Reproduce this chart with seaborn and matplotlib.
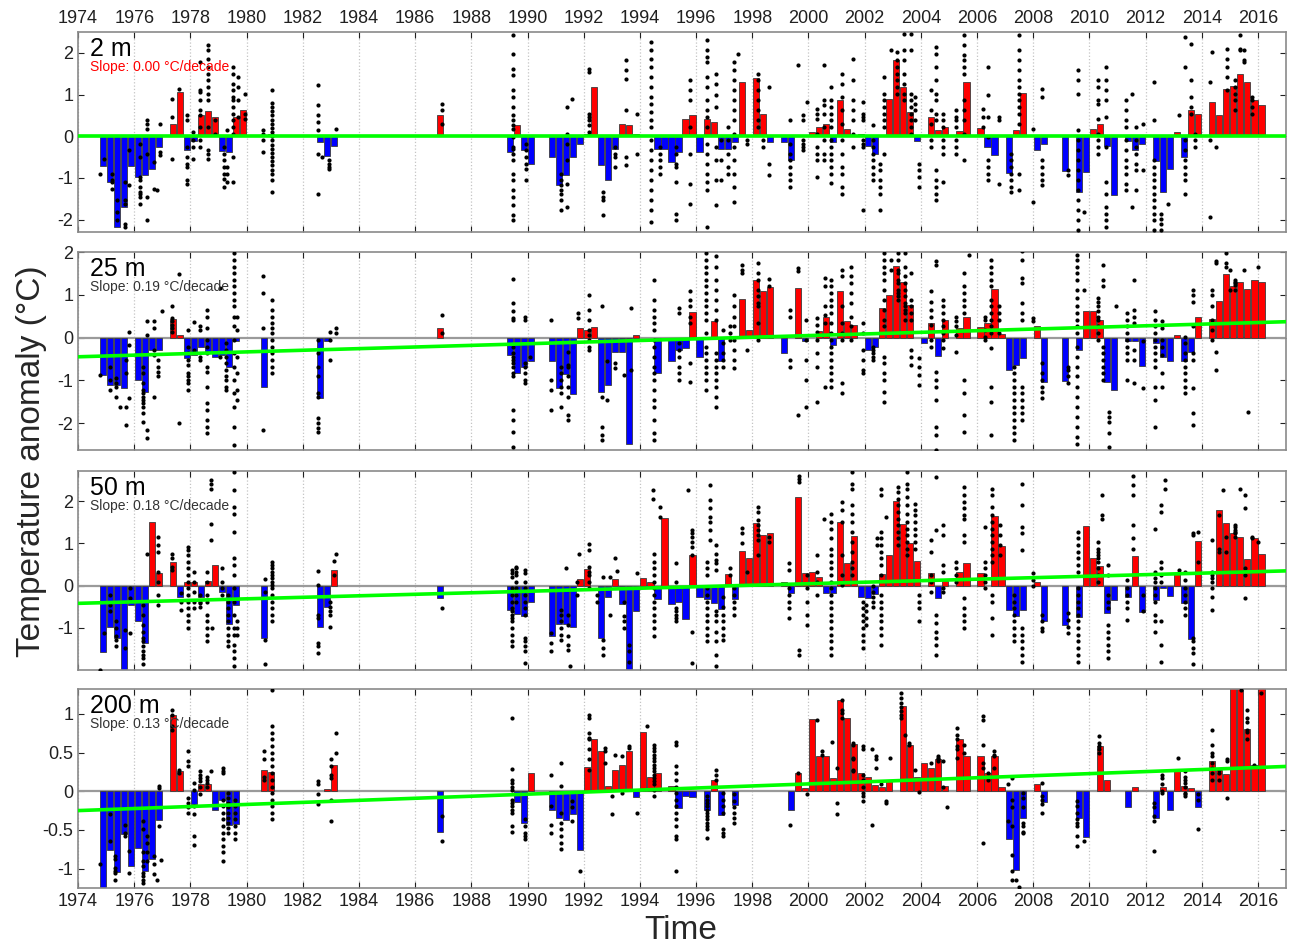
import matplotlib
matplotlib.use("Agg")
import matplotlib.pyplot as plt
import numpy as np
import pandas as pd
import seaborn as sns

# ---- data ----
year_ticks = list(range(1974, 2017, 2))
trend_x = [1974, 2017]

# seasonal mean anomalies: (time, value)
bars_2m = [(1974.875, -0.72), (1975.125, -1.10), (1975.375, -2.18), (1975.625, -1.70), (1975.875, -0.71),
           (1976.125, -0.98), (1976.375, -0.94), (1976.625, -0.78), (1976.875, -0.26), (1977.375, 0.29),
           (1977.625, 1.06), (1977.875, -0.34), (1978.125, -0.12), (1978.375, 0.52), (1978.625, 0.61),
           (1978.875, 0.45), (1979.125, -0.35), (1979.375, -0.38), (1979.625, 0.45), (1979.875, 0.64),
           (1980.875, 0.05), (1982.625, -0.13), (1982.875, -0.47), (1983.125, -0.23), (1986.875, 0.50),
           (1989.375, -0.38), (1989.625, 0.28), (1989.875, -0.32), (1990.125, -0.66), (1990.875, -0.50),
           (1991.125, -1.18), (1991.375, -0.94), (1991.625, -0.50), (1991.875, -0.19), (1992.125, 0.05),
           (1992.375, 1.18), (1992.625, -0.68), (1992.875, -1.06), (1993.125, -0.30), (1993.375, 0.30),
           (1993.625, 0.26), (1993.875, 0.06), (1994.625, -0.31), (1994.875, -0.31), (1995.125, -0.62),
           (1995.375, -0.38), (1995.625, 0.41), (1995.875, 0.50), (1996.125, -0.39), (1996.375, 0.42),
           (1996.625, 0.34), (1996.875, -0.31), (1997.125, -0.31), (1997.375, -0.13), (1997.625, 1.29),
           (1998.125, 1.40), (1998.375, 0.53), (1998.625, -0.13), (1999.125, -0.14), (1999.375, -0.56),
           (2000.125, 0.10), (2000.375, 0.21), (2000.625, 0.30), (2000.875, -0.13), (2001.125, 0.88),
           (2001.375, 0.18), (2001.875, 0.06), (2002.125, -0.23), (2002.375, -0.42), (2002.875, 0.89),
           (2003.125, 1.82), (2003.375, 1.19), (2003.625, 0.58), (2003.875, -0.11), (2004.375, 0.45),
           (2004.625, 0.14), (2004.875, 0.21), (2005.375, 0.13), (2005.625, 1.30), (2006.125, 0.20),
           (2006.375, -0.27), (2006.625, -0.44), (2007.125, -0.88), (2007.375, 0.16), (2007.625, 1.04),
           (2008.125, -0.34), (2008.375, -0.19), (2009.125, -0.83), (2009.625, -1.35), (2009.875, -0.86),
           (2010.125, 0.18), (2010.375, 0.30), (2010.625, -0.23), (2010.875, -1.42), (2011.375, -0.11),
           (2011.625, -0.34), (2011.875, -0.19), (2012.375, -0.59), (2012.625, -1.35), (2012.875, -0.78),
           (2013.125, 0.10), (2013.375, -0.51), (2013.625, 0.62), (2013.875, 0.53), (2014.375, 0.82),
           (2014.625, 0.50), (2014.875, 1.14), (2015.125, 1.20), (2015.375, 1.50), (2015.625, 1.30),
           (2015.875, 0.86), (2016.125, 0.74)]

bars_25m = [(1974.875, -0.88), (1975.125, -1.12), (1975.375, -1.12), (1975.625, -1.17), (1976.125, -0.99),
            (1976.375, -1.28), (1976.625, -0.29), (1976.875, -0.29), (1977.375, 0.44), (1977.625, 0.05),
            (1977.875, -0.48), (1978.125, -0.40), (1978.375, -0.21), (1978.625, -0.33), (1978.875, -0.45),
            (1979.125, -0.41), (1979.375, -0.70), (1979.625, -0.09), (1980.625, -1.15), (1982.625, -1.42),
            (1982.875, -0.09), (1986.875, 0.22), (1989.375, -0.41), (1989.625, -0.84), (1989.875, -0.68),
            (1990.125, -0.55), (1990.875, -0.56), (1991.125, -1.19), (1991.375, -0.85), (1991.625, -1.32),
            (1991.875, 0.23), (1992.125, 0.18), (1992.375, 0.24), (1992.625, -1.28), (1992.875, -1.12),
            (1993.125, -0.33), (1993.375, -0.33), (1993.625, -2.49), (1993.875, 0.05), (1994.625, -0.84),
            (1995.125, -0.55), (1995.375, -0.29), (1995.625, -0.25), (1995.875, 0.59), (1996.125, -0.45),
            (1996.625, 0.38), (1996.875, -0.54), (1997.625, 0.91), (1997.875, 0.18), (1998.125, 1.34),
            (1998.375, 1.09), (1998.625, 1.18), (1999.125, -0.35), (1999.625, 1.16), (1999.875, -0.09),
            (2000.375, 0.16), (2000.625, 0.49), (2000.875, -0.17), (2001.125, 1.09), (2001.375, 0.38),
            (2001.625, 0.30), (2002.125, -0.29), (2002.375, -0.23), (2002.625, 0.70), (2002.875, 1.00),
            (2003.125, 1.68), (2003.375, 1.31), (2003.625, 0.77), (2004.125, -0.13), (2004.375, 0.34),
            (2004.625, -0.42), (2004.875, 0.41), (2005.375, 0.22), (2005.625, 0.48), (2006.125, 0.24),
            (2006.375, 0.34), (2006.625, 1.14), (2006.875, 0.08), (2007.125, -0.77), (2007.375, -0.64),
            (2007.625, -0.48), (2008.125, 0.27), (2008.375, -1.05), (2009.125, -1.01), (2009.625, -0.30),
            (2009.875, 0.63), (2010.125, 0.63), (2010.375, 0.41), (2010.625, -1.03), (2010.875, -1.23),
            (2011.375, -0.09), (2011.625, -0.07), (2011.875, -0.66), (2012.375, -0.12), (2012.625, -0.45),
            (2012.875, -0.56), (2013.125, 0.05), (2013.375, -0.56), (2013.625, -0.33), (2013.875, 0.47),
            (2014.375, 0.43), (2014.625, 0.86), (2014.875, 1.49), (2015.125, 1.20), (2015.375, 1.29),
            (2015.625, 1.13), (2015.875, 1.34), (2016.125, 1.29)]

bars_50m = [(1974.875, -1.57), (1975.125, -0.97), (1975.375, -1.24), (1975.625, -2.10), (1975.875, -0.46),
            (1976.125, -0.83), (1976.375, -1.36), (1976.625, 1.51), (1976.875, 0.29), (1977.375, 0.55),
            (1977.625, -0.26), (1977.875, 0.08), (1978.125, 0.08), (1978.375, -0.28), (1978.625, 0.12),
            (1978.875, 0.49), (1979.125, -0.14), (1979.375, -0.91), (1979.625, -0.46), (1980.625, -1.24),
            (1982.625, -0.99), (1982.875, -0.50), (1983.125, 0.37), (1986.875, -0.30), (1989.375, -0.57),
            (1989.625, -0.68), (1989.875, -0.73), (1990.125, -0.38), (1990.875, -1.20), (1991.125, -0.91),
            (1991.375, -0.91), (1991.625, -0.99), (1991.875, 0.16), (1992.125, 0.39), (1992.625, -1.24),
            (1992.875, -0.26), (1993.125, 0.16), (1993.375, -0.43), (1993.625, -2.05), (1993.875, -0.61),
            (1994.125, 0.17), (1994.375, 0.09), (1994.625, -0.31), (1994.875, 1.61), (1995.125, -0.43),
            (1995.375, -0.38), (1995.625, -0.79), (1995.875, 0.72), (1996.125, -0.28), (1996.375, -0.31),
            (1996.625, -0.42), (1996.875, -0.55), (1997.125, 0.28), (1997.375, -0.31), (1997.625, 0.82),
            (1997.875, 0.66), (1998.125, 1.49), (1998.375, 1.21), (1998.625, 1.25), (1999.125, 0.09),
            (1999.375, -0.18), (1999.625, 2.10), (1999.875, 0.29), (2000.125, 0.33), (2000.375, 0.21),
            (2000.625, -0.17), (2000.875, -0.17), (2001.125, 1.51), (2001.375, 0.54), (2001.625, 1.17),
            (2001.875, -0.28), (2002.125, -0.30), (2002.375, -0.20), (2002.625, 0.27), (2002.875, 0.72),
            (2003.125, 2.00), (2003.375, 1.47), (2003.625, 1.02), (2003.875, 0.58), (2004.375, 0.29),
            (2004.625, -0.30), (2004.875, 0.11), (2005.375, 0.33), (2005.625, 0.53), (2006.125, 0.29),
            (2006.625, 1.65), (2006.875, 0.94), (2007.125, -0.57), (2007.375, -0.71), (2007.625, -0.57),
            (2008.125, 0.09), (2008.375, -0.83), (2009.125, -0.94), (2009.625, -0.75), (2009.875, 1.41),
            (2010.125, 0.66), (2010.375, 0.47), (2010.625, -0.65), (2010.875, -0.34), (2011.375, -0.26),
            (2011.625, 0.71), (2011.875, -0.63), (2012.375, -0.34), (2012.625, -0.06), (2012.875, -0.24),
            (2013.125, 0.28), (2013.375, -0.42), (2013.625, -1.27), (2013.875, 1.06), (2014.625, 1.79),
            (2014.875, 1.49), (2015.125, 1.26), (2015.375, 1.16), (2015.625, 0.63), (2015.875, 1.12),
            (2016.125, 0.76)]

bars_200m = [(1974.875, -1.30), (1975.125, -0.76), (1975.375, -1.04), (1975.625, -0.55), (1975.875, -0.96),
             (1976.125, -0.73), (1976.375, -1.03), (1976.625, -0.88), (1976.875, -0.37), (1977.375, 0.99),
             (1977.625, 0.26), (1978.125, -0.16), (1978.375, 0.09), (1978.625, 0.09), (1978.875, -0.24),
             (1979.125, -0.11), (1979.375, -0.44), (1979.625, -0.42), (1980.625, 0.28), (1980.875, 0.25),
             (1982.875, 0.03), (1983.125, 0.34), (1986.875, -0.52), (1989.625, -0.14), (1989.875, -0.41),
             (1990.125, 0.23), (1990.875, -0.24), (1991.125, -0.34), (1991.375, -0.37), (1991.625, -0.30),
             (1991.875, -0.76), (1992.125, 0.31), (1992.375, 0.67), (1992.625, 0.52), (1992.875, 0.07),
             (1993.125, 0.27), (1993.375, 0.34), (1993.625, 0.52), (1993.875, -0.07), (1994.125, 0.77),
             (1994.375, 0.18), (1994.625, 0.24), (1995.125, 0.07), (1995.375, -0.22), (1995.625, -0.06),
             (1995.875, -0.07), (1996.375, -0.24), (1996.625, 0.14), (1996.875, -0.31), (1997.375, -0.18),
             (1999.375, -0.24), (1999.625, 0.24), (1999.875, 0.04), (2000.125, 0.93), (2000.375, 0.46),
             (2000.625, 0.46), (2000.875, 0.17), (2001.125, 1.18), (2001.375, 0.94), (2001.625, 0.61),
             (2001.875, 0.24), (2002.125, 0.18), (2002.375, 0.08), (2002.625, 0.06), (2002.875, 0.13),
             (2003.375, 1.10), (2003.625, 0.60), (2003.875, 0.19), (2004.125, 0.36), (2004.375, 0.30),
             (2004.625, 0.41), (2004.875, 0.07), (2005.375, 0.67), (2005.625, 0.46), (2006.125, 0.45),
             (2006.375, 0.23), (2006.625, 0.46), (2006.875, 0.06), (2007.125, -0.62), (2007.375, -1.02),
             (2007.625, -0.34), (2008.125, 0.09), (2008.375, -0.14), (2009.625, -0.34), (2009.875, -0.59),
             (2010.375, 0.58), (2010.625, 0.15), (2011.375, -0.21), (2011.625, 0.06), (2012.375, -0.34),
             (2012.625, 0.06), (2012.875, -0.24), (2013.125, 0.26), (2013.375, 0.07), (2013.625, 0.04),
             (2013.875, -0.21), (2014.375, 0.39), (2014.625, 0.28), (2014.875, 0.22), (2015.125, 1.45),
             (2015.375, 1.40), (2015.625, 0.80), (2015.875, 0.34), (2016.125, 1.40)]

# individual profile anomalies: (time, [values])
dots_2m = [
    (1974.77, [-0.91]), (1974.91, [-0.54]), (1975.20, [-0.9, -1.05, -1.1, -1.26]),
    (1975.38, [-1.54, -1.82, -2.0]), (1975.68, [-1.1, -1.54, -1.62, -2.1, -2.18]), (1975.83, [-0.34, -1.18]),
    (1976.20, [-0.18, -0.5, -0.98, -1.06, -1.22, -1.34, -1.38, -1.46, -1.62]),
    (1976.45, [0.38, 0.3, 0.18, -0.42, -1.46, -2.02]), (1976.69, [-0.62, -1.26]), (1976.80, [-1.3]),
    (1976.92, [0.3, -0.38, -0.46]), (1977.34, [0.9, 0.46, -0.54]), (1977.60, [1.14]),
    (1977.87, [0.5, 0.38, -0.26, -0.5, -0.66, -0.74, -1.06, -1.14]), (1978.11, [0.1, -0.1, -0.26, -0.54]),
    (1978.33, [1.78, 1.1, 1.06, 0.86, 0.62, 0.5, 0.22, -0.1, -0.26]),
    (1978.61, [2.18, 2.06, 1.86, 1.66, 1.5, 1.34, 1.18, 1.02, 0.86, 0.22, -0.34, -0.42, -0.54]),
    (1978.88, [0.38, 0.06]), (1979.20, [-0.26, -0.42, -0.58, -0.74, -0.9, -1.02, -1.22]),
    (1979.30, [0.14, -0.74, -0.9, -1.1]),
    (1979.53, [1.66, 1.5, 1.26, 1.1, 0.94, 0.86, 0.7, 0.54, 0.38, 0.22, 0.06, -0.5, -1.1]),
    (1979.68, [1.42, 1.18, 0.86, 0.46]), (1979.95, [1.02, 0.54, 0.42]), (1980.60, [0.14, 0.06, -0.1, -0.38]),
    (1980.90, [1.1, 0.8, 0.7, 0.6, 0.5, 0.4, 0.3, 0.2, 0.1, 0.0, -0.1, -0.2, -0.3, -0.4, -0.5, -0.6, -0.7,
               -0.8, -0.9, -1.06, -1.34]),
    (1982.56, [1.22, 0.74, 0.5, 0.34, 0.14, -0.42, -1.38]), (1982.70, [-0.5]),
    (1982.95, [-0.58, -0.66, -0.74, -0.78]), (1983.20, [0.18]), (1986.95, [0.78, 0.62, 0.3]),
    (1989.50, [2.42, 1.98, 1.62, 1.46, 1.1, 0.94, 0.7, 0.5, 0.38, 0.26, 0.18, -0.02, -0.26, -0.3, -0.42,
               -0.58, -0.9, -1.06, -1.3, -1.46, -1.66, -1.9, -2.02]),
    (1989.95, [-0.18, -0.34, -0.5, -0.66, -0.78, -1.06]),
    (1991.20, [-0.9, -1.06, -1.18, -1.3, -1.38, -1.54, -1.78]), (1991.40, [0.7, 0.06, -0.18, -0.58, -1.14, -1.7]),
    (1991.60, [0.9]), (1992.20, [1.62, 1.54, 0.54, 0.46, 0.38, 0.26, 0.11]), (1992.70, [-1.34, -1.46, -1.54, -1.9]),
    (1993.10, [-0.26, -0.42, -0.5, -0.74]), (1993.50, [1.84, 1.58, 1.38, 0.62, -0.5, -0.7]), (1993.90, [0.54, -0.42]),
    (1994.40, [2.26, 2.06, 1.86, 1.66, 1.42, 1.18, 0.94, 0.78, 0.58, 0.38, 0.22, -0.1, -0.34, -0.58, -0.82,
               -1.06, -1.3, -1.54, -1.78, -2.06]),
    (1994.73, [-0.26, -0.42, -0.58, -0.74, -0.9]), (1995.30, [-0.26, -0.42, -0.66, -0.74, -1.1, -1.86, -2.02]),
    (1995.80, [1.34, 1.1, 0.86, 0.22, -0.42, -1.14, -1.62]),
    (1996.40, [2.3, 2.06, 1.9, 1.78, 1.42, 1.18, 0.86, 0.62, 0.46, 0.22, -0.18, -0.42, -0.66, -0.9, -1.1,
               -1.3, -2.18]),
    (1996.70, [1.5, 1.26, 0.98, 0.7, -0.26, -0.58, -1.06, -1.66]), (1996.90, [-0.1, -0.58, -1.06]),
    (1997.15, [0.22, -0.1, -0.42, -0.74, -0.9]),
    (1997.36, [1.78, 1.58, 1.34, 1.1, 0.86, 0.62, 0.38, 0.06, -0.26, -0.58, -0.9, -1.22, -1.58]),
    (1997.50, [1.98]), (1997.80, [-0.1, -0.18]), (1998.20, [1.5, 1.34, 1.1, 0.86, 0.62, 0.38, 0.22]),
    (1998.40, [-0.1, -0.26]), (1998.60, [1.18, -0.66, -0.94]),
    (1999.35, [0.38, -0.18, -0.42, -0.58, -0.74, -0.9, -1.06, -1.22]), (1999.62, [1.72]),
    (1999.80, [0.5, 0.38, -0.1, -0.18, -0.26, -0.34]), (1999.95, [0.82]),
    (2000.30, [0.66, 0.54, 0.42, 0.06, -0.26, -0.42, -0.58, -0.98]),
    (2000.55, [1.7, 0.86, 0.74, 0.54, 0.22, -0.1, -0.42, -0.58]),
    (2000.80, [1.18, 0.86, 0.7, 0.54, 0.38, 0.22, -0.1, -0.26, -0.42, -0.58, -0.74, -0.9, -1.12]),
    (2001.20, [1.5, 1.26, 0.94, 0.62, 0.3, -0.1, -0.42, -0.74, -0.9, -1.22, -1.38]),
    (2001.60, [1.86, 1.34, 0.86, 0.62, 0.38, 0.06, -0.26]),
    (2001.95, [0.82, 0.54, 0.46, 0.38, -0.1, -0.18, -0.26, -1.78]),
    (2002.30, [0.26, -0.1, -0.26, -0.42, -0.58, -0.74, -0.9, -1.06]),
    (2002.55, [-0.66, -0.82, -1.06, -1.22, -1.38, -1.78]),
    (2002.70, [1.42, 1.02, 0.86, 0.7, 0.54, 0.38, 0.22, -0.42]), (2002.95, [2.06]),
    (2003.15, [2.02, 1.82, 1.66, 1.5, 1.34, 1.18, 1.02]), (2003.40, [2.46, 2.06, 1.82, 1.5, 1.26, 1.02, 0.86]),
    (2003.65, [2.46, 2.06, 1.02, 0.86, 0.7, 0.54, 0.38, 0.22, 0.06]), (2003.80, [0.94, 0.78, 0.62, 0.38]),
    (2003.92, [-0.66, -0.82, -0.98, -1.22]), (2004.35, [1.1, 0.62, 0.3, -0.1, -0.26]),
    (2004.55, [2.14, 1.98, 1.66, 1.34, 1.02, 0.86, 0.54, 0.38, -0.82, -1.06, -1.22, -1.38, -1.54]),
    (2004.80, [0.54, 0.38, 0.22, -0.1, -0.26, -0.42, -1.1]), (2005.27, [0.62, 0.46, 0.38, 0.22, -0.1, -0.26, -0.42]),
    (2005.55, [2.42, 2.18, 1.94, 1.82, 1.66, 1.5, 0.86, 0.62, 0.38, 0.06, -0.58]), (2006.20, [0.66, 0.46, 0.22]),
    (2006.40, [1.66, 0.98, 0.46, -0.02, -0.58, -0.74, -0.9, -1.06]), (2006.80, [0.46, 0.38, -1.14]),
    (2007.20, [-0.42, -0.58, -0.74, -0.9, -1.06, -1.22, -1.34]),
    (2007.50, [2.42, 2.06, 1.82, 1.58, 1.34, 1.18, 1.02, 0.86, 0.7, 0.54, 0.3, -0.9, -1.3]),
    (2008.00, [0.18, -1.58]), (2008.30, [1.14, 0.94, -0.58, -0.74, -0.9, -1.06, -1.18]), (2009.25, [-0.82, -0.94]),
    (2009.60, [1.58, 1.34, 1.02, 0.14, -0.1, -0.34, -0.58, -0.82, -1.06, -1.3, -1.54, -1.78, -2.02, -2.26]),
    (2009.80, [-1.82]), (2010.30, [1.34, 1.18, 0.86, 0.78, 0.42, 0.06, -0.1, -0.26, -0.42]),
    (2010.60, [1.66, 1.34, 1.1, 0.86, 0.46, -0.26, -1.1, -1.38, -1.7, -1.86, -2.02, -2.18]),
    (2011.30, [0.86, 0.62, 0.38, 0.22, -0.1, -0.34, -0.58, -0.74, -0.9, -1.14, -1.3]), (2011.50, [1.02, -1.7]),
    (2011.65, [0.22, -0.1, -0.26, -0.42, -0.66, -0.82, -1.3]), (2011.90, [0.3, -0.82]),
    (2012.30, [1.3, 0.38, -0.58, -0.74, -0.9, -1.06, -1.22, -1.38, -1.54, -1.7, -1.86, -2.02, -2.26]),
    (2012.55, [-1.86, -1.98, -2.1, -2.26]), (2012.80, [-1.62]), (2013.20, [0.5]),
    (2013.40, [2.38, 1.66, -0.1, -0.34, -0.58, -0.74, -0.9, -1.06, -1.38]), (2013.60, [2.22, 1.34, 0.94, 0.7, 0.54]),
    (2013.75, [0.06, -0.1, -0.26]), (2014.30, [1.3, -0.1, -1.94]), (2014.35, [2.02]), (2014.52, [-0.26]),
    (2014.90, [2.1, 1.86, 1.66, 1.42, 1.1]), (2015.20, [1.34, 1.18, 1.02, 0.86, 0.62]),
    (2015.35, [2.42, 2.1, 2.06]), (2015.50, [2.06, 1.82, 1.78]), (2015.80, [0.94, 0.86, 0.7, 0.54]),
]

dots_25m = [
    (1974.80, [-0.88]), (1975.15, [-0.68, -0.99, -1.23]), (1975.35, [-0.95, -1.07, -1.15, -1.38]),
    (1975.48, [-1.62]), (1975.70, [-0.52, -0.84, -1.62, -2.05]), (1975.83, [0.14, -0.17, -1.42]),
    (1976.30, [-0.68, -0.84, -1.07, -1.23, -1.3, -1.38, -1.46, -1.54, -1.62, -1.77, -1.97]),
    (1976.45, [0.38, 0.06, -2.16, -2.36]), (1976.70, [0.38, 0.22, -0.29, -0.41, -1.38]),
    (1976.85, [-0.52, -0.68, -0.8, -0.91]), (1976.98, [0.61]), (1977.35, [0.73, 0.45, 0.38, 0.3, 0.22, 0.14]),
    (1977.60, [1.49, -2.0]), (1977.90, [0.18, -0.21, -0.37, -0.52, -0.64, -0.84, -0.91, -0.99, -1.07, -1.23]),
    (1978.13, [0.36, -0.29]), (1978.33, [0.27, 0.18, -0.45, -0.52]),
    (1978.60, [0.65, 0.49, 0.22, -0.05, -0.21, -0.37, -0.68, -0.8, -1.15, -1.54, -1.7, -1.93, -2.09, -2.24]),
    (1979.05, [1.16, -0.45]), (1979.25, [-0.13, -0.29, -0.45, -0.6, -0.76, -0.91, -0.99, -1.15, -1.23]),
    (1979.55, [1.98, 1.82, 1.66, 1.51, 1.35, 1.2, 1.04, 0.88, 0.73, 0.49, 0.26, -0.05, -0.37, -0.68, -0.99,
               -1.3, -1.62, -2.09, -2.52]),
    (1979.65, [0.49, 0.18, -0.45, -0.84, -1.23, -1.46]), (1980.60, [1.43, 1.04, 0.22, -2.16]),
    (1980.90, [0.88, 0.65, 0.49, 0.34, 0.22, 0.1, -0.05, -0.21, -0.37, -0.52, -0.68, -0.84]),
    (1982.55, [-0.05, -0.37, -0.68, -0.91, -1.3, -1.38, -1.89, -2.0, -2.12, -2.2]),
    (1982.98, [0.14, -0.05, -0.52]), (1983.20, [0.22, 0.1]), (1986.95, [0.53, 0.1]),
    (1989.50, [1.37, 0.8, 0.61, 0.45, 0.41, -0.21, -0.37, -0.45, -0.52, -0.6, -0.68, -0.84, -0.91, -1.7,
               -1.93, -2.2, -2.55]),
    (1989.90, [0.49, 0.41, -0.6, -0.68, -0.84, -0.99, -1.07]), (1990.10, [-0.45]),
    (1990.85, [0.41, -0.99, -1.23, -1.7]), (1991.20, [-0.68, -0.84, -0.99, -1.15, -1.3, -1.62]),
    (1991.45, [-0.33, -0.64, -0.68, -0.91, -1.15, -1.38, -1.81, -1.93]), (1991.78, [0.57, 0.45]),
    (1992.20, [1.0, 0.65, 0.41, 0.18, 0.06, -0.05, -0.21, -0.29]), (1992.65, [0.73, -1.38, -2.09, -2.28, -2.4]),
    (1992.83, [-0.56, -1.46]), (1993.12, [-0.6, -0.72]), (1993.42, [-0.88]), (1993.70, [0.69, -0.76]),
    (1994.50, [1.35, 0.88, 0.65, 0.49, 0.34, 0.18, -0.05, -0.21, -0.45, -0.68, -0.84, -0.99, -1.23, -1.46,
               -1.62, -1.93, -2.24, -2.4]),
    (1995.40, [0.69, 0.57, -0.13, -0.29, -0.45, -0.68, -0.84, -0.99]),
    (1995.80, [1.08, 0.88, 0.73, 0.49, 0.34, -0.6, -1.03]),
    (1996.35, [1.98, 1.82, 1.66, 1.51, 1.35, 1.2, 1.04, 0.88, 0.73, 0.57, 0.41, 0.1, -0.21, -0.37, -0.52,
               -0.68, -0.84, -0.99, -1.23]),
    (1996.70, [1.9, 1.66, 1.35, 1.12, 0.88, 0.65, 0.41, -0.37, -0.52, -0.68, -0.84, -0.99, -1.15, -1.38, -1.62]),
    (1996.95, [0.18, -0.13, -0.37, -0.52, -0.68]), (1997.20, [0.26, 0.1, -0.05]),
    (1997.36, [1.0, 0.73, 0.49, 0.26, -0.05, -0.29, -0.52, -0.72]), (1997.63, [1.7, 1.59, 1.51]),
    (1997.80, [-0.29]), (1998.20, [1.74, 1.51, 1.35, 1.12, 0.96, 0.8, 0.73, 0.34, -0.05]),
    (1998.58, [1.37, 1.2]), (1999.35, [0.65, 0.49, -0.52, -0.68]), (1999.62, [1.62, 1.55, -1.81]),
    (1999.90, [0.41, -0.05, -0.52, -0.99, -1.62]), (2000.30, [0.45, 0.3, 0.14, -0.05, -0.37, -0.68, -1.5]),
    (2000.60, [1.39, 1.2, 0.73, 0.53, 0.34, -1.15]),
    (2000.80, [1.35, 1.2, 1.04, 0.88, 0.73, 0.57, 0.34, 0.1, -0.05, -0.21, -0.37, -0.52, -0.68, -0.84,
               -0.99, -1.15]),
    (2001.20, [1.59, 1.43, 0.73, 0.34, 0.1, -0.05, -1.07, -1.3]),
    (2001.50, [1.66, 1.43, 1.27, 1.04, 0.8, 0.49, 0.26, -0.05]),
    (2001.95, [0.34, 0.1, -0.29, -0.52, -0.76, -0.84]), (2002.30, [-0.21, -0.29, -0.37, -0.45, -0.52]),
    (2002.70, [1.98, 1.82, 1.66, 1.51, 1.35, 1.12, 0.88, 0.65, 0.41, 0.26, -0.45, -0.6, -0.84, -0.99,
               -1.27, -1.5]),
    (2002.95, [1.82, 1.59]), (2003.20, [1.98, 1.82, 1.59, 1.51, 1.35, 1.27, 1.12, 1.04, 0.96, 0.88]),
    (2003.45, [1.98, 1.66, 1.43, 1.27, 1.12, 0.96, 0.8, 0.73, 0.65, 0.57, 0.41]),
    (2003.65, [1.51, 0.88, 0.73, 0.57, 0.41, -0.29, -0.45, -0.64]), (2003.95, [-0.48, -0.68, -0.88, -1.11]),
    (2004.35, [1.08, 0.84, 0.65, 0.49, 0.3, -0.05, -0.21]),
    (2004.55, [1.78, 1.7, -0.8, -0.99, -1.15, -1.46, -2.09, -2.28, -2.63]),
    (2004.80, [0.88, 0.73, 0.57, 0.41, 0.26, 0.1, -0.05, -0.25]), (2005.27, [0.49, 0.38, 0.26, 0.06, -0.33]),
    (2005.55, [1.51, 1.2, 1.04, 0.88, 0.73, 0.57, -0.99, -1.3, -1.81, -2.2]), (2005.70, [1.94]),
    (2006.30, [0.49, 0.41, 0.18, 0.02, -0.05]),
    (2006.50, [1.82, 1.66, 1.51, 1.35, 1.2, 0.88, 0.73, 0.57, 0.41, 0.26, 0.1, -0.25, -1.15, -1.5, -2.28]),
    (2006.80, [0.73, 0.57, 0.41, 0.1]),
    (2007.30, [-0.68, -0.84, -0.99, -1.15, -1.3, -1.46, -1.62, -1.77, -1.93, -2.09, -2.24, -2.4]),
    (2007.60, [2.02, 1.82, 1.39, 1.27, 0.8, 0.57, 0.41, -1.15, -1.3, -1.46, -1.62, -1.77, -1.93]),
    (2008.00, [0.45, 0.38]), (2008.30, [-0.6, -0.84, -0.99, -1.15, -1.27, -1.42]),
    (2009.25, [-0.68, -0.76, -0.91, -1.07]),
    (2009.55, [1.94, 1.82, 1.66, 1.51, 1.35, 1.12, 0.92, 0.73, 0.57, 0.41, 0.26, 0.1, -0.21, -0.45, -0.68,
               -0.91, -1.15, -1.38, -1.62, -1.85, -2.09, -2.32, -2.48]),
    (2009.80, [1.12]), (2010.30, [0.92, 0.84, 0.73, 0.61, 0.49, 0.41, 0.26, 0.1, -0.05]),
    (2010.50, [1.7, 1.35, 1.2, -0.21, -0.37, -0.52, -0.68, -0.84, -0.99]),
    (2010.70, [-1.73, -1.85, -1.97, -2.24, -2.55]), (2010.95, [0.73]),
    (2011.35, [0.57, 0.41, 0.26, 0.1, -0.05, -0.21, -0.37, -0.52, -0.99]),
    (2011.60, [1.35, 0.65, 0.49, 0.34, -0.29, -0.52, -1.07]), (2011.90, [-0.09, -1.19]),
    (2012.35, [0.61, 0.41, 0.26, 0.1, -0.05, -0.21, -0.37, -0.52, -0.68, -1.15, -1.46, -2.09]),
    (2012.60, [0.38, 0.22, -0.05, -0.21, -0.41, -0.84, -1.15]),
    (2013.40, [0.02, -0.13, -0.37, -0.52, -0.68, -0.84, -0.99, -1.15, -1.3]),
    (2013.70, [1.12, 1.0, 0.84, 0.26, -0.37, -0.52, -1.19, -1.77, -2.05]),
    (2014.35, [1.12, 1.0, 0.73, 0.41, 0.18, -0.05]), (2014.50, [1.78, 1.74, -0.33, -0.76]),
    (2014.85, [1.98, 1.74, 1.66]), (2015.00, [1.59, 1.12]), (2015.20, [1.35, 1.31, 1.27, 1.23, 1.12]),
    (2015.50, [1.59]), (2015.65, [-1.73]), (2016.00, [1.66]),
]

dots_50m = [
    (1974.77, [-1.99]), (1974.91, [-1.13]), (1975.15, [-0.22, -0.46, -0.61]),
    (1975.35, [-0.85, -1.01, -1.2, -1.28, -1.44]), (1975.68, [-1.05, -1.48]), (1975.86, [-0.06, -0.3, -1.13]),
    (1976.30, [-0.46, -0.69, -0.93, -1.09, -1.24, -1.32, -1.44, -1.56, -1.64, -1.72, -1.87]), (1976.45, [0.74]),
    (1976.85, [1.16, 0.96, 0.8, 0.33, 0.09, -0.22, -0.46]), (1977.35, [0.76, 0.65, 0.45, 0.37]),
    (1977.65, [-0.18, -0.38, -0.57]),
    (1977.90, [0.92, 0.84, 0.72, 0.57, 0.41, 0.25, 0.09, -0.06, -0.22, -0.38, -0.54, -0.69, -0.85, -1.01]),
    (1978.12, [0.33, 0.09, -0.14, -0.38, -0.54]), (1978.33, [-0.22, -0.38, -0.42, -0.5]),
    (1978.60, [0.33, 0.09, -0.22, -0.38, -0.69, -0.85, -1.01, -1.17, -1.32]),
    (1978.73, [2.5, 2.42, 2.3, 1.47, 1.08]), (1978.78, [-1.01]), (1979.12, [0.41, 0.09, -0.06, -0.22]),
    (1979.35, [-0.22, -0.38, -0.54, -0.69, -0.85, -1.01, -1.17, -1.32, -1.44]),
    (1979.55, [2.69, 2.26, 1.87, 1.71, 1.28, 0.65, 0.49, 0.25, -0.06, -0.38, -0.69, -1.01, -1.17, -1.4,
               -1.56, -1.72, -1.91]),
    (1979.67, [-0.85, -1.01, -1.17]), (1980.65, [0.16, -0.14, -1.28, -1.87]),
    (1980.90, [0.57, 0.49, 0.41, 0.33, 0.25, 0.17, 0.09, 0.02, -0.06, -0.22, -0.38, -0.54, -0.69, -0.85]),
    (1982.56, [0.35, 0.02, -0.69, -0.77, -1.36, -1.44, -1.6]), (1982.98, [-0.38, -0.5, -0.61, -0.69, -0.97]),
    (1983.10, [0.58, 0.25]), (1983.20, [0.76]), (1986.95, [-0.54]),
    (1989.45, [0.37, 0.29, 0.21, -0.06, -0.22, -0.38, -0.54, -0.61, -0.69, -0.77, -0.85, -1.01, -1.17,
               -1.32, -1.44]),
    (1989.60, [0.45, 0.41, 0.33, 0.25, 0.09, -0.06, -0.22, -0.38]),
    (1989.90, [0.37, 0.29, 0.09, -0.06, -0.22, -0.38, -0.54, -0.69, -1.24, -1.32, -1.44, -1.56, -1.83]),
    (1990.85, [-1.13, -1.36, -1.56]), (1991.20, [-0.57, -0.69, -0.85, -1.01, -1.17, -1.28]), (1991.38, [0.43]),
    (1991.45, [-0.69, -0.93, -1.2, -1.4, -1.52]), (1991.52, [-1.91]), (1991.75, [0.09, -0.22]), (1991.82, [0.76]),
    (1992.20, [0.98, 0.84, 0.45, 0.33, 0.25, 0.09, -0.06]), (1992.47, [-0.22, -0.38]),
    (1992.70, [0.21, -1.28, -1.48, -1.64]), (1992.95, [0.21, -0.69]), (1993.12, [0.66]), (1993.18, [0.35]),
    (1993.45, [-0.38, -0.73, -0.85, -1.01]), (1993.60, [-1.4, -1.56, -1.8]), (1993.90, [0.31]),
    (1994.50, [0.74, 0.57, 0.41, 0.25, 0.09, -0.06, -0.22, -0.38, -0.54, -0.69, -0.85, -1.01, -1.2]),
    (1994.45, [2.26, 2.06]), (1994.72, [1.87, 1.63]), (1995.30, [0.53, 0.09, -0.54, -0.61, -0.69, -0.77, -0.85]),
    (1995.72, [2.26]), (1995.85, [1.31, 1.24, 1.16, 1.04, 0.92, 0.72, -1.09, -1.83]),
    (1996.40, [0.57, 0.41, 0.25, -0.06, -0.22, -0.38, -0.54, -0.69, -0.85, -1.01, -1.17, -1.32]),
    (1996.48, [2.39, 2.02, 1.83, 1.63, 1.51, 1.31, 1.08]),
    (1996.70, [0.96, 0.76, 0.61, 0.53, 0.37, -0.61, -0.69, -0.85, -1.09, -1.32, -1.64, -1.91]),
    (1996.95, [-0.26, -0.5, -0.69, -0.85, -1.01, -1.17, -1.28]), (1997.20, [0.41, 0.25]),
    (1997.36, [-0.06, -0.22, -0.38, -0.54, -0.69]), (1997.63, [1.37, 1.24, 1.0]), (1997.80, [0.33]),
    (1998.20, [1.87, 1.75, 1.55, 1.43, 1.31, 1.2, 1.08, 0.72]), (1998.58, [1.16, 1.04]),
    (1999.30, [0.53, 0.37, -0.06, -0.22, -0.38, -0.54, -0.77]), (1999.65, [2.61, 2.54, 2.46, -1.52, -1.64]),
    (1999.95, [0.25, -0.06, -0.38, -0.69, -0.93]), (2000.30, [0.72, 0.33, 0.09, -0.22]), (2000.55, [1.59]),
    (2000.80, [1.71, 1.51, 1.35, 1.12, 0.88, 0.72, 0.57, 0.41, 0.25, 0.09, -0.06, -0.22, -0.38, -0.54,
               -0.69, -0.85, -1.01, -1.17, -1.32, -1.48, -1.64]),
    (2001.20, [1.98, 1.79, 1.51, 0.72, 0.25, 0.02]),
    (2001.55, [2.69, 2.42, 2.3, 1.91, 1.71, 1.51, 1.28, 1.04, 0.8, 0.57, 0.41, 0.25]),
    (2001.95, [-0.38, -0.54, -0.69, -0.85, -1.01, -1.17, -1.32, -1.48]), (2002.05, [-0.46, -0.61, -0.77, -0.93]),
    (2002.30, [-0.02, -0.14, -0.26, -0.38, -0.5]), (2002.43, [1.12, 0.96]),
    (2002.60, [2.3, 2.14, 1.28, 1.12, 0.96, 0.8, 0.65, 0.49, 0.25, -0.22, -0.38, -0.54, -0.69, -0.85,
               -1.01, -1.17, -1.4]),
    (2002.75, [1.63]), (2003.20, [2.34, 2.22, 2.06, 1.91, 1.75, 1.59, 1.43, 1.28, 1.12, 0.96]),
    (2003.50, [2.69, 2.42, 2.3, 2.1, 1.91, 1.71, 1.51, 1.35, 1.2, 1.04, 0.88, 0.72]),
    (2003.80, [1.94, 1.79, 1.67, 1.51, 1.35, 1.2, 1.04, 0.88]), (2003.95, [-0.22, -0.38, -0.54, -0.85]),
    (2004.35, [1.08, 0.8, 0.25, 0.09, -0.14]), (2004.55, [2.57, 1.31, -0.69, -0.89, -1.09, -1.24, -1.4, -1.64]),
    (2004.78, [1.43, 1.2, 0.49, 0.33, -0.06, -0.14]), (2005.27, [0.57, 0.41, 0.25, 0.09]),
    (2005.55, [2.34, 2.14, 1.98, 1.83, 1.67, 1.59, 1.2, 1.04, -0.3, -0.54, -0.69, -0.85, -1.01]),
    (2006.30, [1.39, 0.57, 0.41, 0.25, 0.09, -0.06]),
    (2006.55, [2.3, 2.14, 1.87, 1.67, 1.51, 1.35, 1.2, 1.04, 0.88, 0.72, 0.57, -0.22, -0.38, -0.77, -1.17]),
    (2006.82, [1.43, 1.2, 0.96, 0.72]), (2007.30, [-0.22, -0.38, -0.54, -0.69, -0.85, -1.01, -1.17, -1.32]),
    (2007.60, [2.42, 1.91, 1.39, 1.24, 0.84, -1.01, -1.17, -1.32, -1.48, -1.64, -1.8]),
    (2008.00, [0.29, 0.13, -0.02]), (2008.30, [-0.69, -0.85, -1.01, -1.07]), (2009.25, [-0.65, -0.81, -0.97, -1.13]),
    (2009.60, [1.28, 1.12, 0.96, 0.8, 0.65, 0.49, 0.33, -0.06, -0.22, -0.38, -0.54, -0.69, -0.85, -1.01,
               -1.17, -1.32, -1.48, -1.64, -1.8]),
    (2010.30, [1.04, 0.88, 0.8, 0.72, 0.65, 0.57, 0.41, 0.25, 0.09]), (2010.45, [2.14, 1.67, 1.59]),
    (2010.65, [0.49, 0.25, -0.22, -0.38, -0.54, -0.93, -1.09, -1.24, -1.4, -1.56, -1.72]),
    (2011.35, [0.13, -0.06, -0.22, -0.38, -0.54, -0.81]), (2011.55, [2.61, 2.38, 2.14, 1.43, 1.12, 0.88]),
    (2011.90, [-0.22, -0.61]), (2012.35, [1.35, 0.33, 0.17, 0.09, -0.06, -0.22, -0.38, -0.69, -0.85, -1.09]),
    (2012.55, [1.91, 1.75, 0.57, 0.41, 0.25, 0.09, -0.85, -1.4, -1.8]), (2012.70, [2.5, 2.3]),
    (2013.20, [0.37]), (2013.40, [0.33, 0.13, -0.06, -0.22, -0.38, -0.54, -0.69]),
    (2013.70, [1.24, 1.2, -1.24, -1.32, -1.48, -1.6, -1.87]), (2013.87, [1.28, 0.57]),
    (2014.35, [1.08, 0.33, 0.25, 0.17, 0.09, -0.06, -0.26, -0.57]), (2014.60, [1.67, 0.88, 0.8]),
    (2014.75, [2.26]), (2014.85, [1.16, 0.8]), (2015.20, [1.43, 1.39, 1.31, 1.28, 1.24, 1.16]),
    (2015.35, [2.3]), (2015.55, [2.14, 1.83, 0.41, 0.25, -0.3]), (2015.80, [1.16, 1.12]), (2016.00, [1.04]),
]

dots_200m = [
    (1974.77, [-0.94]), (1975.15, [-0.3, -0.64]), (1975.30, [-0.84, -0.88, -0.99, -1.03, -1.05, -1.14]),
    (1975.68, [-0.43, -0.54, -0.58]), (1975.80, [-0.77, -1.05]),
    (1976.30, [-0.39, -0.49, -0.79, -0.9, -0.97, -1.05, -1.09, -1.14, -1.18]),
    (1976.45, [-0.58, -0.67, -0.79, -0.9]), (1976.70, [-0.84, -0.94, -1.07]), (1976.80, [-1.14]),
    (1976.87, [0.07, 0.04, -0.45]), (1976.95, [-0.89]), (1977.35, [1.05, 0.99, 0.84, 0.79]),
    (1977.60, [0.28, 0.24]), (1977.90, [0.52, 0.39, 0.32, -0.09, -0.15, -0.21, -0.28]),
    (1978.12, [0.11, 0.02, -0.19, -0.3, -0.58, -0.69]), (1978.33, [0.26, 0.21, 0.17, 0.13, 0.06, -0.04]),
    (1978.60, [0.19, 0.15, 0.11, 0.06]), (1978.73, [0.26]),
    (1979.15, [0.3, 0.26, 0.24, -0.11, -0.19, -0.28, -0.36, -0.45, -0.54, -0.62, -0.71, -0.79, -0.9]),
    (1979.35, [-0.02, -0.09, -0.15, -0.21, -0.28, -0.34, -0.41, -0.47, -0.54]),
    (1979.60, [-0.11, -0.19, -0.28, -0.36, -0.45, -0.54, -0.62]), (1980.62, [0.52, 0.41, 0.19, 0.15]),
    (1980.90, [1.31, 0.84, 0.75, 0.67, 0.58, 0.49, 0.41, 0.32, 0.24, 0.15, 0.06, -0.02, -0.11, -0.19,
               -0.28, -0.36]),
    (1982.56, [0.13, 0.09, -0.04, -0.17]), (1983.00, [0.41, 0.32, 0.21, 0.17, -0.11, -0.39]),
    (1983.20, [0.75, 0.49]), (1986.95, [-0.32, -0.64]),
    (1989.45, [0.94, 0.29, 0.15, 0.11, 0.06, 0.02, -0.11, -0.15, -0.19, -0.24, -0.28, -0.45, -0.52]),
    (1989.90, [-0.36, -0.45, -0.54, -0.58, -0.62]), (1990.85, [0.21, -0.19, -0.43, -0.54]),
    (1991.20, [0.36, 0.07, -0.28, -0.41, -0.49, -0.58, -0.67, -0.75]), (1991.60, [-0.13, -0.21, -0.39]),
    (1991.88, [-1.03]), (1992.20, [0.99, 0.94, 0.75, 0.69, 0.67, 0.54, 0.41, 0.28]),
    (1992.75, [0.56, 0.52, 0.36]), (1993.00, [-0.06, -0.3]), (1993.12, [0.47]), (1993.36, [0.45, -0.02]),
    (1993.60, [0.58, 0.56]), (1993.90, [-0.28]), (1994.25, [0.84]),
    (1994.50, [0.6, 0.56, 0.52, 0.47, 0.43, 0.39, 0.34, 0.3, 0.26, 0.21, 0.17, 0.13, 0.09, 0.02, -0.06]),
    (1995.30, [0.64, 0.6, 0.32, 0.24, 0.15, 0.06, -0.02, -0.11, -0.19, -0.28, -0.36, -0.45, -0.58, -0.62, -1.03]),
    (1996.40, [-0.06, -0.11, -0.15, -0.19, -0.24, -0.28, -0.32, -0.36, -0.41, -0.45, -0.49, -0.6]),
    (1996.70, [0.28, 0.21, 0.15]), (1996.95, [-0.02, -0.11, -0.19, -0.28, -0.49, -0.54, -0.58]),
    (1997.36, [-0.04, -0.13, -0.21, -0.28, -0.34, -0.41]), (1999.35, [-0.44]), (1999.62, [0.24]),
    (1999.95, [-0.04]), (2000.30, [0.92]), (2000.50, [0.52, 0.47]), (2000.85, [0.63]),
    (2001.00, [0.3, -0.15, -0.3]), (2001.20, [1.18, 1.05, 1.01, 0.94]),
    (2001.60, [0.62, 0.6, 0.43, 0.41, 0.28, 0.26]), (2001.95, [0.58, 0.54, 0.21, 0.15, 0.06, -0.02, -0.06, -0.13]),
    (2002.25, [0.54, -0.43]), (2002.40, [0.45, 0.41, 0.3]), (2002.60, [0.09]), (2002.75, [-0.13, -0.15]),
    (2002.92, [0.43]), (2003.30, [1.27, 1.2, 1.14, 1.09, 1.03, 0.99, 0.94]), (2003.43, [0.73]),
    (2003.58, [0.62, 0.6]), (2003.80, [0.28]), (2003.95, [-0.01]), (2004.35, [0.36]),
    (2004.60, [0.45, 0.43, 0.41, 0.39]), (2004.80, [0.39, 0.06]), (2004.92, [-0.21]),
    (2005.30, [0.82, 0.73, 0.67, 0.58, 0.54, 0.43]), (2005.55, [0.6, 0.49]),
    (2006.20, [0.97, 0.92, 0.6, 0.36, 0.3, -0.67]), (2006.40, [0.24, 0.15]), (2006.60, [0.52, 0.47, 0.45, 0.3]),
    (2007.10, [0.09, -0.39]), (2007.25, [0.17, -0.11, -0.21, -0.45, -0.82, -1.03, -1.14]), (2007.40, [-1.14]),
    (2007.50, [-1.24]), (2007.62, [-0.02, -0.09, -0.21, -0.41, -0.45, -0.52, -0.54]),
    (2008.30, [0.11, -0.06, -0.11, -0.17, -0.28]),
    (2009.57, [-0.13, -0.19, -0.28, -0.36, -0.41, -0.45, -0.58, -0.71]), (2009.80, [-0.64]),
    (2010.35, [0.71, 0.62, 0.58, 0.54, 0.49]), (2012.30, [-0.15, -0.21, -0.32, -0.39, -0.77]),
    (2012.60, [0.21, 0.17, 0.09, 0.0, -0.02]), (2013.15, [0.43]),
    (2013.40, [0.26, 0.19, 0.15, 0.11, 0.06, -0.02, -0.04, -0.06]), (2013.85, [-0.04, -0.11, -0.49]),
    (2014.35, [0.79, 0.6, 0.49, 0.45, 0.36, 0.3, 0.24, 0.15]), (2014.60, [0.28, 0.24, 0.15]),
    (2014.90, [0.41, 0.39, -0.09]), (2015.40, [1.31]), (2015.60, [1.05, 0.94, 0.9, 0.79, 0.77, 0.67]),
    (2015.87, [0.34]), (2016.10, [1.27]),
]

trend_2m = [0.0, 0.0]
trend_25m = [-0.45, 0.37]
trend_50m = [-0.42, 0.35]
trend_200m = [-0.25, 0.32]

panels = [
    ("2 m", "Slope: 0.00 °C/decade", "#ff0000", bars_2m, dots_2m, trend_2m, (-2.3, 2.5), [-2, -1, 0, 1, 2]),
    ("25 m", "Slope: 0.19 °C/decade", "#333333", bars_25m, dots_25m, trend_25m, (-2.63, 2.0), [-2, -1, 0, 1, 2]),
    ("50 m", "Slope: 0.18 °C/decade", "#333333", bars_50m, dots_50m, trend_50m, (-2.0, 2.72), [-1, 0, 1, 2]),
    ("200 m", "Slope: 0.13 °C/decade", "#333333", bars_200m, dots_200m, trend_200m, (-1.25, 1.32),
     [-1, -0.5, 0, 0.5, 1]),
]

# ---- figure ----
sns.set_style("ticks")
plt.rcParams["font.family"] = ["Liberation Sans", "DejaVu Sans"]
plt.rcParams["axes.unicode_minus"] = False

fig = plt.figure(figsize=(12.96, 9.51), dpi=100)
boxes = [[0.0602, 0.7560, 0.9321, 0.2103],
         [0.0602, 0.5268, 0.9321, 0.2082],
         [0.0602, 0.2955, 0.9321, 0.2093],
         [0.0602, 0.0662, 0.9321, 0.2093]]

for i, (name, slope, slope_col, bars, dots, trend, ylim, yt) in enumerate(panels):
    ax = fig.add_axes(boxes[i])
    bdf = pd.DataFrame(bars, columns=["t", "v"])
    cols = np.where(bdf["v"] >= 0, "#ff0000", "#0000ff")
    ax.bar(bdf["t"], bdf["v"], width=0.22, color=cols, edgecolor="#3c3c3c", linewidth=0.6, zorder=2)

    ddf = pd.DataFrame([(t, v) for t, vs in dots for v in vs], columns=["t", "v"])
    sns.scatterplot(data=ddf, x="t", y="v", ax=ax, color="black", s=9, linewidth=0, zorder=3)

    ax.axhline(0, color="#9a9a9a", lw=1.6, zorder=1)
    sns.lineplot(x=trend_x, y=trend, ax=ax, color="#00ff00", lw=2.6, zorder=4)

    ax.set_xlim(1974, 2017)
    ax.set_ylim(*ylim)
    ax.set_xticks(year_ticks)
    ax.set_yticks(yt)
    ax.set_yticklabels(["%g" % v for v in yt])
    ax.grid(axis="x", linestyle=":", color="#c4c4c4", lw=0.9)
    ax.tick_params(direction="in", top=True, right=True, labelsize=13, length=4, colors="#202020")
    ax.tick_params(axis="x", labelbottom=(i == 3), labeltop=(i == 0))
    for s in ax.spines.values():
        s.set_color("#8a8a8a")
        s.set_linewidth(1.2)
    ax.set_xlabel("")
    ax.set_ylabel("")

    ax.text(0.01, 0.975, name, transform=ax.transAxes, va="top", ha="left", fontsize=18, color="black")
    ax.text(0.01, 0.825, slope, transform=ax.transAxes, va="center", ha="left", fontsize=10,
            color=slope_col)

fig.text(0.024, 0.515, "Temperature anomaly (°C)", rotation=90, ha="center", va="center", fontsize=24)
fig.text(0.525, 0.022, "Time", ha="center", va="center", fontsize=24)

fig.savefig("out.png", dpi=100)
